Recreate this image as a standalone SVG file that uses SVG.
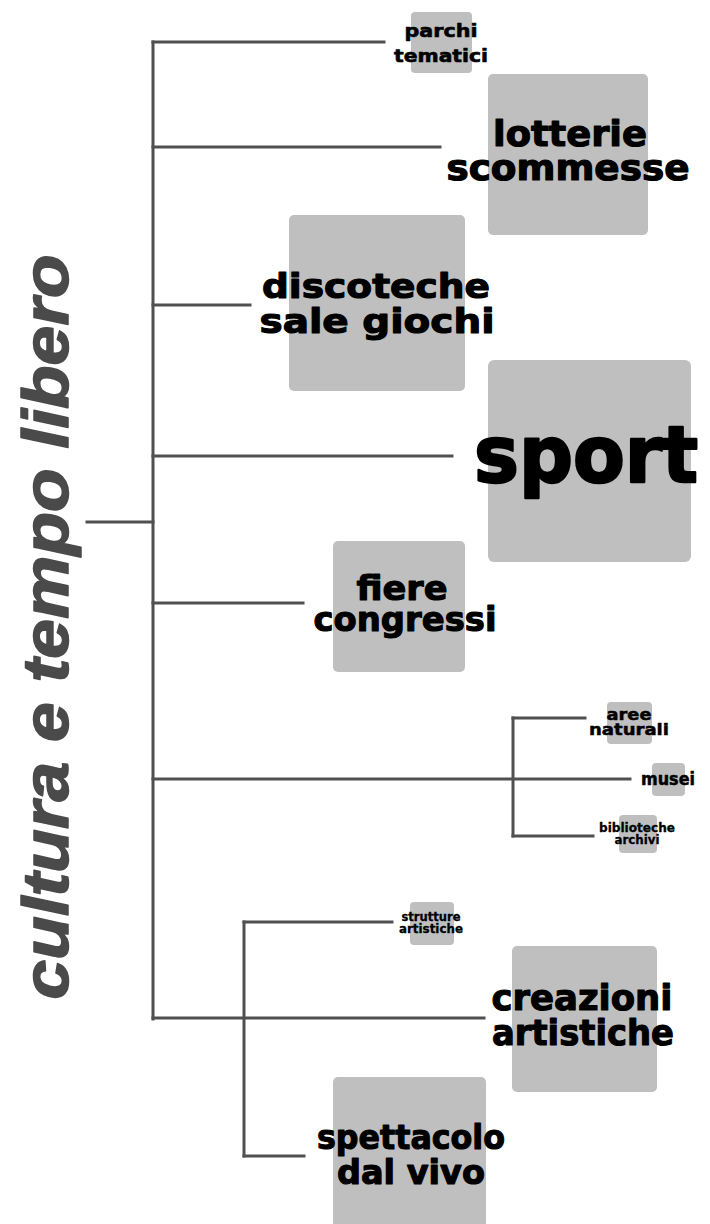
<svg xmlns="http://www.w3.org/2000/svg" width="710" height="1224" viewBox="0 0 710 1224">
<style>
.box{fill:#bfbfbf}
.lbl{font-family:"DejaVu Sans","Liberation Sans",sans-serif;font-weight:bold;fill:#000;stroke:#000;text-anchor:middle;stroke-linejoin:round}
.ln{stroke:#505050;stroke-width:3;fill:none;stroke-linecap:square}
.title{font-family:"Liberation Sans","DejaVu Sans",sans-serif;font-weight:bold;font-style:italic;fill:#4a4a4a;stroke:#4a4a4a;stroke-width:1.5;text-anchor:middle;stroke-linejoin:round}
</style>
<rect width="710" height="1224" fill="#fff"/>
<g id="connectors">
<path class="ln" d="M153 42 V1019"/>
<path class="ln" d="M87 522 H153"/>
<path class="ln" d="M153 42 H384"/>
<path class="ln" d="M153 147 H440"/>
<path class="ln" d="M153 305 H250"/>
<path class="ln" d="M153 456 H452"/>
<path class="ln" d="M153 603 H303"/>
<path class="ln" d="M153 779 H630"/>
<path class="ln" d="M513 718 V836"/>
<path class="ln" d="M513 718 H585"/>
<path class="ln" d="M513 836 H593"/>
<path class="ln" d="M153 1018 H484"/>
<path class="ln" d="M244 922 V1156"/>
<path class="ln" d="M244 922 H392"/>
<path class="ln" d="M244 1156 H304"/>
</g>
<g id="root">
<text class="title" font-size="64" textLength="745" lengthAdjust="spacingAndGlyphs" transform="translate(68,627) rotate(-90)">cultura e tempo libero</text>
</g>
<g id="parchi">
<rect class="box" x="411" y="12" width="61" height="61" rx="4"/>
<text class="lbl" x="441" y="37" font-size="18" stroke-width="0.6" textLength="73" lengthAdjust="spacingAndGlyphs">parchi</text>
<text class="lbl" x="441" y="62" font-size="18" stroke-width="0.6" textLength="94" lengthAdjust="spacingAndGlyphs">tematici</text>
</g>
<g id="lotterie">
<rect class="box" x="488" y="74" width="160" height="161" rx="5"/>
<text class="lbl" x="570" y="146" font-size="36" stroke-width="1.2" textLength="154" lengthAdjust="spacingAndGlyphs">lotterie</text>
<text class="lbl" x="568" y="180" font-size="36" stroke-width="1.2" textLength="243" lengthAdjust="spacingAndGlyphs">scommesse</text>
</g>
<g id="discoteche">
<rect class="box" x="289" y="215" width="176" height="176" rx="5"/>
<text class="lbl" x="376" y="298" font-size="33" stroke-width="1.1" textLength="228" lengthAdjust="spacingAndGlyphs">discoteche</text>
<text class="lbl" x="377" y="333" font-size="33" stroke-width="1.1" textLength="235" lengthAdjust="spacingAndGlyphs">sale giochi</text>
</g>
<g id="sport">
<rect class="box" x="488" y="360" width="203" height="202" rx="6"/>
<text class="lbl" x="586" y="482" font-size="79" stroke-width="2.4" textLength="224" lengthAdjust="spacingAndGlyphs">sport</text>
</g>
<g id="fiere">
<rect class="box" x="333" y="541" width="132" height="131" rx="5"/>
<text class="lbl" x="402" y="600" font-size="33" stroke-width="1.1" textLength="91" lengthAdjust="spacingAndGlyphs">fiere</text>
<text class="lbl" x="405" y="631" font-size="33" stroke-width="1.1" textLength="183" lengthAdjust="spacingAndGlyphs">congressi</text>
</g>
<g id="aree">
<rect class="box" x="607" y="702" width="45" height="42" rx="4"/>
<text class="lbl" x="629" y="720" font-size="16.5" stroke-width="0.5" textLength="45" lengthAdjust="spacingAndGlyphs">aree</text>
<text class="lbl" x="629" y="735" font-size="16.5" stroke-width="0.5" textLength="80" lengthAdjust="spacingAndGlyphs">naturali</text>
</g>
<g id="musei">
<rect class="box" x="652" y="763" width="33" height="33" rx="4"/>
<text class="lbl" x="668" y="785" font-size="17" stroke-width="0.5" textLength="54" lengthAdjust="spacingAndGlyphs">musei</text>
</g>
<g id="biblioteche">
<rect class="box" x="619" y="815" width="38" height="38" rx="4"/>
<text class="lbl" x="637" y="832" font-size="12" stroke-width="0.3" textLength="76" lengthAdjust="spacingAndGlyphs">biblioteche</text>
<text class="lbl" x="637" y="844" font-size="12" stroke-width="0.3" textLength="45" lengthAdjust="spacingAndGlyphs">archivi</text>
</g>
<g id="strutture">
<rect class="box" x="410" y="902" width="44" height="43" rx="4"/>
<text class="lbl" x="431" y="921" font-size="11.5" stroke-width="0.3" textLength="59" lengthAdjust="spacingAndGlyphs">strutture</text>
<text class="lbl" x="431" y="933" font-size="11.5" stroke-width="0.3" textLength="64" lengthAdjust="spacingAndGlyphs">artistiche</text>
</g>
<g id="creazioni">
<rect class="box" x="512" y="946" width="145" height="146" rx="5"/>
<text class="lbl" x="582" y="1010" font-size="35" stroke-width="1.1" textLength="181" lengthAdjust="spacingAndGlyphs">creazioni</text>
<text class="lbl" x="583" y="1045" font-size="35" stroke-width="1.1" textLength="182" lengthAdjust="spacingAndGlyphs">artistiche</text>
</g>
<g id="spettacolo">
<rect class="box" x="333" y="1077" width="153" height="160" rx="5"/>
<text class="lbl" x="411" y="1149" font-size="33" stroke-width="1.1" textLength="188" lengthAdjust="spacingAndGlyphs">spettacolo</text>
<text class="lbl" x="411" y="1184" font-size="33" stroke-width="1.1" textLength="148" lengthAdjust="spacingAndGlyphs">dal vivo</text>
</g>
</svg>
